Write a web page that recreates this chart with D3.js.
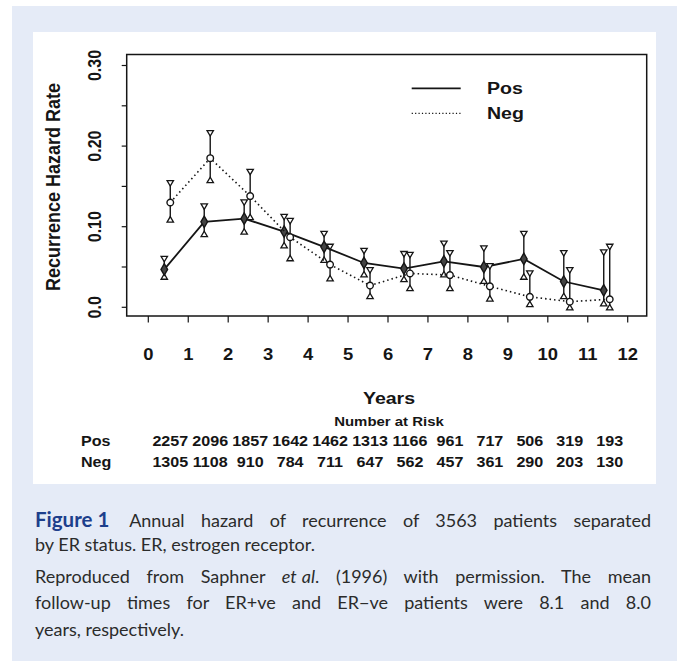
<!DOCTYPE html>
<html>
<head>
<meta charset="utf-8">
<script src="https://cdn.jsdelivr.net/npm/d3@7"></script>
<style>
  body { margin: 0; background: #fff; }
  #wrap { position: relative; width: 677px; height: 661px; overflow: hidden; }
  svg { position: absolute; left: 0; top: 0; }
  .cap { position: absolute; left: 35px; width: 616px; font-family: Lato, "Open Sans", sans-serif;
         font-size: 18px; color: #2b2b2b; white-space: nowrap; }
  .cap.just { text-align: justify; text-align-last: justify; white-space: normal; }
  .fig { color: #1d3f8c; font-weight: 700; font-size: 20.5px; margin-right: 4px; }
  .gap { margin-left: 5px; }
</style>
</head>
<body>
<div id="wrap"></div>
<script>
// interval midpoints offset per group (years)
var intervals = [0, 1, 2, 3, 4, 5, 6, 7, 8, 9, 10, 11]

var posRate  = [0.047, 0.106, 0.110, 0.094, 0.075, 0.055, 0.048, 0.057, 0.050, 0.060, 0.032, 0.021]
var posUpper = [0.060, 0.125, 0.130, 0.112, 0.091, 0.070, 0.066, 0.079, 0.073, 0.091, 0.067, 0.068]
var posLower = [0.038, 0.091, 0.094, 0.077, 0.059, 0.041, 0.035, 0.041, 0.033, 0.038, 0.014, 0.005]

var negRate  = [0.130, 0.185, 0.138, 0.087, 0.053, 0.027, 0.042, 0.040, 0.026, 0.013, 0.007, 0.010]
var negUpper = [0.154, 0.216, 0.168, 0.107, 0.075, 0.046, 0.065, 0.067, 0.051, 0.042, 0.046, 0.075]
var negLower = [0.109, 0.158, 0.112, 0.061, 0.036, 0.014, 0.024, 0.024, 0.011, 0.004, 0.000, 0.000]

var posRisk = [2257, 2096, 1857, 1642, 1462, 1313, 1166, 961, 717, 506, 319, 193]
var negRisk = [1305, 1108, 910, 784, 711, 647, 562, 457, 361, 290, 203, 130]

var xTicks = d3.range(0, 13)
var yTicks = [0, 0.05, 0.1, 0.15, 0.2, 0.25, 0.3]
var yLabels = { 0: '0.0', 0.1: '0.10', 0.2: '0.20', 0.3: '0.30' }

var W = 677, H = 661
var ink = '#151515'
var sx = 1.15 // the scanned figure text is a little wide

var svg = d3.select('#wrap').append('svg').attr('width', W).attr('height', H)

// page panels
svg.append('rect').attr('x', 12).attr('y', 6).attr('width', W - 12).attr('height', H - 6).attr('fill', '#e5ebf7')
svg.append('rect').attr('x', 33).attr('y', 32).attr('width', 623).attr('height', 452).attr('fill', '#fff')

var x = d3.scaleLinear().domain([0, 12]).range([148.3, 627.7])
var y = d3.scaleLinear().domain([0, 0.3]).range([307.3, 65.5])

var box = { left: 126.7, right: 646.7, top: 54.5, bottom: 316 }

function label(g, px, py, str, size, anchor, rot) {
  return g.append('text')
    .attr('transform', `translate(${px},${py}) scale(${sx},1)` + (rot ? ` rotate(${rot})` : ''))
    .attr('text-anchor', anchor || 'middle')
    .attr('font-family', '"Liberation Sans", Arial, sans-serif')
    .attr('font-weight', 'bold')
    .attr('font-size', size)
    .attr('fill', ink)
    .text(str)
}

var chart = svg.append('g')

chart.append('rect')
  .attr('x', box.left).attr('y', box.top)
  .attr('width', box.right - box.left).attr('height', box.bottom - box.top)
  .attr('fill', 'none').attr('stroke', ink).attr('stroke-width', 1.5)

// y axis ticks + rotated labels
chart.selectAll('.ytick').data(yTicks).enter().append('line')
  .attr('x1', box.left).attr('x2', box.left - 5)
  .attr('y1', d => y(d)).attr('y2', d => y(d))
  .attr('stroke', ink).attr('stroke-width', 1.2)

yTicks.filter(d => yLabels[d]).forEach(function(d) {
  label(chart, 101, y(d), yLabels[d], 16, 'middle', -90)
})

label(chart, 60, 187, 'Recurrence Hazard Rate', 18, 'middle', -90)

// x axis ticks + labels
chart.selectAll('.xtick').data(xTicks).enter().append('line')
  .attr('x1', d => x(d)).attr('x2', d => x(d))
  .attr('y1', box.bottom).attr('y2', box.bottom + 6.5)
  .attr('stroke', ink).attr('stroke-width', 1.2)

xTicks.forEach(function(d) {
  label(chart, x(d), 360, String(d), 16, 'middle')
})

label(chart, x(6) + 1, 404, 'Years', 17, 'middle')
label(chart, x(6) + 1, 426, 'Number at Risk', 13, 'middle')

// number at risk
label(chart, 81, 446, 'Pos', 14, 'start')
label(chart, 81, 467, 'Neg', 14, 'start')
intervals.forEach(function(d, i) {
  label(chart, x(d + 0.5) + 2, 446, String(posRisk[i]), 14, 'middle')
  label(chart, x(d + 0.5) + 2, 467, String(negRisk[i]), 14, 'middle')
})

// series
var series = [
  { name: 'Pos', off: 0.4, rate: posRate, up: posUpper, lo: posLower, dash: null, width: 1.8 },
  { name: 'Neg', off: 0.55, rate: negRate, up: negUpper, lo: negLower, dash: '1.5,3', width: 1.6 }
]

var tri = 3.2
series.forEach(function(s) {
  var pts = intervals.map((d, i) => ({ t: d + s.off, v: s.rate[i], u: s.up[i], l: s.lo[i] }))
  var g = chart.append('g')

  g.append('path')
    .datum(pts)
    .attr('d', d3.line().x(d => x(d.t)).y(d => y(d.v)))
    .attr('fill', 'none')
    .attr('stroke', ink)
    .attr('stroke-width', s.width)
    .attr('stroke-dasharray', s.dash)

  g.selectAll('.bar').data(pts).enter().append('line')
    .attr('x1', d => x(d.t)).attr('x2', d => x(d.t))
    .attr('y1', d => y(d.u)).attr('y2', d => y(d.l))
    .attr('stroke', ink).attr('stroke-width', 1.4)

  // upper end: down-pointing triangle
  g.selectAll('.up').data(pts).enter().append('path')
    .attr('d', d => `M${x(d.t) - tri},${y(d.u) - 2.6}L${x(d.t) + tri},${y(d.u) - 2.6}L${x(d.t)},${y(d.u) + 2.8}Z`)
    .attr('fill', '#fff').attr('stroke', ink).attr('stroke-width', 1.3)

  // lower end: up-pointing triangle
  g.selectAll('.lo').data(pts).enter().append('path')
    .attr('d', d => `M${x(d.t) - tri},${y(d.l) + 2.6}L${x(d.t) + tri},${y(d.l) + 2.6}L${x(d.t)},${y(d.l) - 2.8}Z`)
    .attr('fill', '#fff').attr('stroke', ink).attr('stroke-width', 1.3)

  g.selectAll('.pt').data(pts).enter().append('path')
    .attr('transform', d => `translate(${x(d.t)},${y(d.v)})`)
    .attr('d', s.name === 'Pos' ? d3.symbol(d3.symbolDiamond, 38)() : d3.symbol(d3.symbolCircle, 34)())
    .attr('fill', s.name === 'Pos' ? '#444' : '#fff')
    .attr('stroke', ink).attr('stroke-width', 1.4)
})

// legend
var legend = chart.append('g')
series.forEach(function(s, i) {
  var ly = 88.3 + i * 25
  legend.append('line')
    .attr('x1', 411.7).attr('x2', 460.7).attr('y1', ly).attr('y2', ly)
    .attr('stroke', ink).attr('stroke-width', s.dash ? 1.3 : 1.8)
    .attr('stroke-dasharray', s.dash ? '1.2,2.2' : null)
  label(legend, 487, ly + 6, s.name, 17, 'start')
})

// caption
var wrap = d3.select('#wrap')
var lines = [
  { top: 507, just: true, html: '<span class="fig">Figure<span class="gap">1</span></span> Annual hazard of recurrence of 3563 patients separated' },
  { top: 533, just: false, html: 'by ER status. ER, estrogen receptor.' },
  { top: 565, just: true, html: 'Reproduced from Saphner <i>et<span class="gap">al</span></i>. (1996) with permission. The mean' },
  { top: 591, just: true, html: 'follow-up times for ER+ve and ER\u2212ve patients were 8.1 and 8.0' },
  { top: 618, just: false, html: 'years, respectively.' }
]
wrap.selectAll('.cap').data(lines).enter().append('div')
  .attr('class', d => 'cap' + (d.just ? ' just' : ''))
  .style('top', d => d.top + 'px')
  .html(d => d.html)
</script>
</body>
</html>
